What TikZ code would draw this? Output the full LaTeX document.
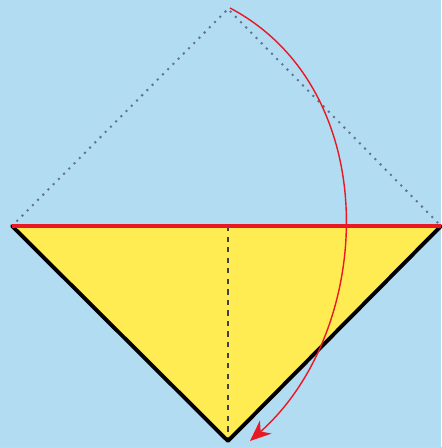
\documentclass[tikz,border=0pt]{standalone}
\usepackage{tikz}
\usetikzlibrary{arrows.meta, calc}
\definecolor{skyblue}{RGB}{178, 220, 242}
\definecolor{paperyellow}{RGB}{255, 236, 82}
\definecolor{foldred}{RGB}{232, 24, 36}
\definecolor{dotgray}{RGB}{95, 115, 140}

\begin{document}
\begin{tikzpicture}[x=0.02cm, y=-0.02cm,
  edge/.style={line width=2.2pt, black, line cap=round, line join=round},
  foldline/.style={line width=2.2pt, foldred},
  crease/.style={dashed, line width=0.8pt, black!75},
  ghost/.style={line width=1.6pt, dotgray, line cap=round, dash pattern=on 0pt off 4.2pt},
  turn/.style={-{Stealth[length=12pt, width=10pt]}, line width=0.8pt, foldred}]
  % ===== 背景 =====
  \fill[skyblue] (0, 0) rectangle (441, 447);
  \useasboundingbox (0, 0) rectangle (441, 447);

  % 顶点
  \coordinate (L) at (12, 226);
  \coordinate (R) at (441, 226);
  \coordinate (B) at (228, 441);
  \coordinate (T) at (228, 9);
  \coordinate (M) at (228, 226);
  \coordinate (S) at (230, 8);
  \coordinate (E) at (250, 441);

  % ===== 折前的位置（虚点） =====
  \draw[ghost] (L) -- (T) -- (R);

  % ===== 三角形 =====
  \fill[paperyellow] (L) -- (R) -- (B) -- cycle;
  \draw[crease] (M) -- (B);
  \draw[edge] (L) -- (B) -- (R);
  \draw[foldline] (L) -- (R);

  % ===== 折叠箭头 =====
  \draw[turn] (S) .. controls (385, 90) and (375, 330) .. (E);
\end{tikzpicture}
\end{document}
